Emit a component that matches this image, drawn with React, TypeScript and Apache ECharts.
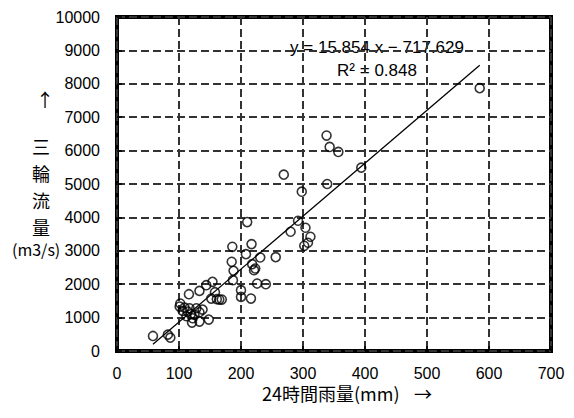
import React, { useEffect, useRef } from "react";
import * as echarts from "echarts";

// 24-hour rainfall (mm)
const rainfall = [
  58, 82, 86, 102, 101, 109, 106, 114, 119, 125, 133, 138, 128, 122, 112, 121, 133, 148,
  116, 133, 144, 154, 152, 158, 165, 169, 161, 117,
  186, 185, 188, 187, 208, 217, 210, 218, 223, 221, 231, 256, 226, 240, 200, 200, 216,
  280, 292, 298, 269, 304, 312, 308, 302, 339, 338, 343, 357, 394, 585,
];
// Miwa discharge (m3/s)
const discharge = [
  450, 490, 400, 1420, 1330, 1300, 1200, 1180, 1100, 1080, 1160, 1240, 1280, 980, 1040, 850, 880, 940,
  1700, 1800, 1970, 2070, 1570, 1760, 1540, 1540, 1550, 1280,
  3120, 2670, 2400, 2120, 2900, 3200, 3860, 2600, 2470, 2420, 2800, 2810, 2020, 2000, 1820, 1620, 1570,
  3570, 3900, 4770, 5280, 3690, 3420, 3240, 3150, 5000, 6450, 6110, 5960, 5490, 7870,
];
const slope = 15.854;
const intercept = -717.629;
const r2 = 0.848;
const xTicks = [0, 700, 100];
const yTicks = [0, 10000, 1000];

const FONT = "'Liberation Sans', Arial, sans-serif";
const JP = "'Noto Sans CJK JP', sans-serif";

export default function App() {
  const ref = useRef<HTMLDivElement>(null);
  useEffect(() => {
    if (!ref.current) return;
    const chart = echarts.init(ref.current, null, { renderer: "svg" });
    const pts = rainfall.map((x, i) => [x, discharge[i]]);
    const xMin = Math.min(...rainfall);
    const xMax = Math.max(...rainfall);
    const fit = [xMin, xMax].map((x) => [x, slope * x + intercept]);
    chart.setOption({
      animation: false,
      backgroundColor: "#fff",
      grid: {
        left: 117,
        right: 23,
        top: 17,
        bottom: 67,
        show: true,
        borderColor: "#000",
        borderWidth: 4,
        backgroundColor: "transparent",
      },
      xAxis: {
        type: "value",
        min: xTicks[0],
        max: xTicks[1],
        interval: xTicks[2],
        axisLine: { show: false },
        axisTick: { show: true, inside: true, length: 5, lineStyle: { color: "#000", width: 1.5 } },
        splitLine: { show: true, lineStyle: { color: "#333", width: 2, type: [8, 4] } },
        axisLabel: { color: "#000", fontSize: 16, fontFamily: FONT, margin: 14, formatter: (v: number) => String(v) },
      },
      yAxis: {
        type: "value",
        min: yTicks[0],
        max: yTicks[1],
        interval: yTicks[2],
        axisLine: { show: false },
        axisTick: { show: true, inside: true, length: 5, lineStyle: { color: "#000", width: 1.5 } },
        splitLine: { show: true, lineStyle: { color: "#333", width: 2, type: [8, 4] } },
        axisLabel: { color: "#000", fontSize: 16, fontFamily: FONT, margin: 17, formatter: (v: number) => String(v) },
      },
      graphic: [
        { type: "text", left: 36, top: 90, style: { text: "↑", fontSize: 18, fontFamily: JP, fill: "#000" } },
        {
          type: "text",
          left: 32,
          top: 132,
          style: { text: "三\n輪\n流\n量", fontSize: 18, lineHeight: 27, fontFamily: JP, fill: "#000" },
        },
        { type: "text", left: 12, top: 241, style: { text: "(m3/s)", fontSize: 16, fontFamily: JP, fill: "#000" } },
        {
          type: "text",
          left: 262,
          top: 384,
          style: { text: "24時間雨量(mm)", fontSize: 18, fontFamily: JP, fill: "#000" },
        },
        {
          type: "text",
          left: 414,
          top: 384,
          style: { text: "→", fontSize: 18, fontFamily: JP, fill: "#000" },
        },
        {
          type: "text",
          x: 377,
          y: 47,
          style: {
            text: `y = ${slope} x − ${Math.abs(intercept)}`,
            fontSize: 17,
            fontFamily: FONT,
            fill: "#000",
            align: "center",
            verticalAlign: "middle",
          },
        },
        {
          type: "text",
          x: 377,
          y: 70,
          style: {
            text: `R² = ${r2}`,
            fontSize: 17,
            fontFamily: FONT,
            fill: "#000",
            align: "center",
            verticalAlign: "middle",
          },
        },
      ],
      series: [
        {
          type: "line",
          data: fit,
          showSymbol: false,
          symbol: "none",
          lineStyle: { color: "#000", width: 1.3 },
          z: 3,
        },
        {
          type: "scatter",
          data: pts,
          symbol: "circle",
          symbolSize: 9,
          itemStyle: { color: "rgba(255,255,255,0)", borderColor: "#000", borderWidth: 1.6 },
          z: 4,
        },
      ],
    });
    return () => chart.dispose();
  }, []);
  return (
    <div
      ref={ref}
      style={{ position: "fixed", left: 0, top: 0, width: 574, height: 418, background: "#fff" }}
    />
  );
}
